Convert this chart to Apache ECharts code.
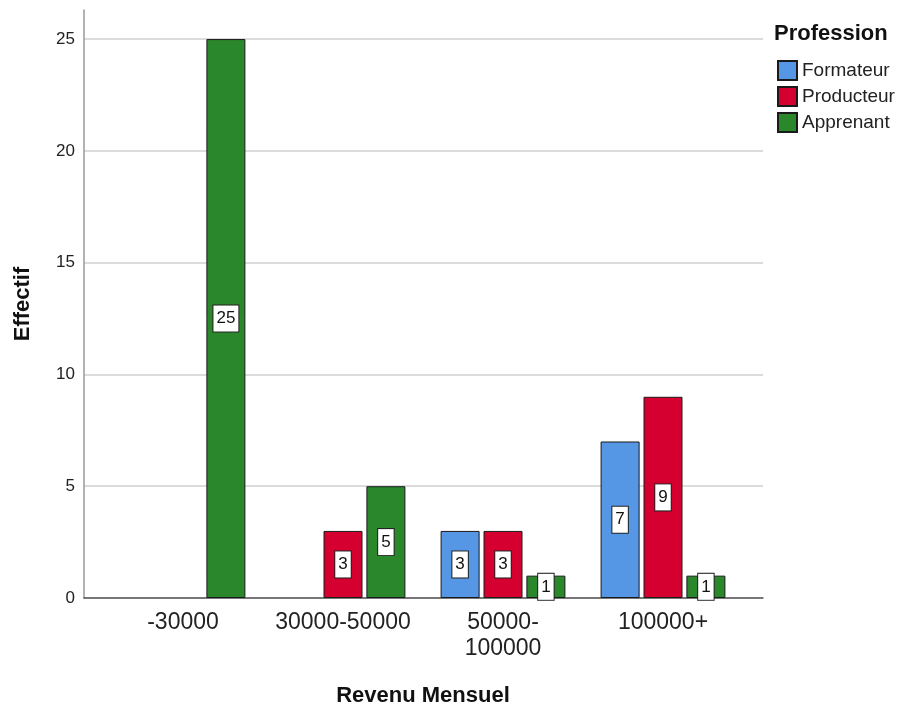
<!DOCTYPE html>
<html>
<head>
<meta charset="utf-8">
<script src="https://cdn.jsdelivr.net/npm/echarts@6/dist/echarts.min.js"></script>
<style>
  html, body { margin: 0; padding: 0; background: #fff; }
  #chart { width: 901px; height: 707px; }
</style>
</head>
<body>
<div id="chart"></div>
<script>
// Income brackets on the x axis
const categories = ['-30000', '30000-50000', '50000-\n100000', '100000+'];
// Counts per profession ('-' = no respondents in that bracket)
const formateur = ['-', '-', 3, 7];
const producteur = ['-', 3, 3, 9];
const apprenant = [25, 5, 1, 1];
const seriesNames = ['Formateur', 'Producteur', 'Apprenant'];
const seriesColors = ['#5596e5', '#d5002f', '#2b872b'];

const FONT = '"Liberation Sans", Arial, sans-serif';
const Y_MAX = 26.3;

const barLabel = {
  show: true,
  position: 'inside',
  formatter: '{c}',
  backgroundColor: '#fff',
  borderColor: '#222',
  borderWidth: 1,
  padding: [5, 3, 5, 3],
  fontSize: 17,
  lineHeight: 16,
  color: '#111',
  fontFamily: FONT
};

function makeSeries(name, data, color) {
  return {
    name: name,
    type: 'bar',
    xAxisIndex: 1,
    yAxisIndex: 1,
    data: data,
    barWidth: 39,
    barGap: '10%',
    itemStyle: { color: color, borderColor: '#1a1a1a', borderWidth: 1 },
    label: barLabel,
    emphasis: { disabled: true }
  };
}

const chart = echarts.init(document.getElementById('chart'), null, { renderer: 'canvas' });
chart.setOption({
  animation: false,
  textStyle: { fontFamily: FONT },
  title: {
    text: 'Profession',
    left: 774,
    top: 23,
    padding: 0,
    textStyle: { fontSize: 22, fontWeight: 'bold', color: '#111', fontFamily: FONT }
  },
  legend: {
    orient: 'vertical',
    left: 777,
    top: 60,
    padding: 0,
    itemWidth: 19,
    itemHeight: 19,
    itemGap: 5,
    icon: 'rect',
    data: seriesNames,
    textStyle: { fontSize: 19, color: '#222', fontFamily: FONT }
  },
  grid: [
    // frame: axes and gridlines
    { left: 84, right: 138, top: 10, bottom: 109, outerBoundsMode: 'none', containLabel: false },
    // bars: category bands
    { left: 103, right: 158, top: 10, bottom: 109, outerBoundsMode: 'none', containLabel: false }
  ],
  xAxis: [
    {
      gridIndex: 0, type: 'value', min: 0, max: 1,
      axisLine: { show: true, lineStyle: { color: '#555', width: 1.5 } },
      axisTick: { show: false }, axisLabel: { show: false }, splitLine: { show: false }
    },
    {
      gridIndex: 1, type: 'category', data: categories,
      axisLine: { show: false }, axisTick: { show: false },
      axisLabel: { interval: 0, fontSize: 23, color: '#222', margin: 12, lineHeight: 26, fontFamily: FONT },
      name: 'Revenu Mensuel',
      nameLocation: 'middle',
      nameGap: 87,
      nameTextStyle: { fontSize: 22, fontWeight: 'bold', color: '#111', fontFamily: FONT }
    }
  ],
  yAxis: [
    {
      gridIndex: 0, type: 'value', min: 0, max: Y_MAX, interval: 5,
      axisLine: { show: true, lineStyle: { color: '#999', width: 1.5 } },
      axisTick: { show: false },
      axisLabel: { fontSize: 17, color: '#222', margin: 9, showMaxLabel: false, fontFamily: FONT },
      splitLine: { show: true, showMaxLine: false, lineStyle: { color: '#d0d0d0', width: 1.5 } },
      name: 'Effectif',
      nameLocation: 'middle',
      nameGap: 50,
      nameTextStyle: { fontSize: 22, fontWeight: 'bold', color: '#111', fontFamily: FONT }
    },
    {
      gridIndex: 1, type: 'value', min: 0, max: Y_MAX, show: false
    }
  ],
  series: [
    makeSeries(seriesNames[0], formateur, seriesColors[0]),
    makeSeries(seriesNames[1], producteur, seriesColors[1]),
    makeSeries(seriesNames[2], apprenant, seriesColors[2])
  ]
});
</script>
</body>
</html>
